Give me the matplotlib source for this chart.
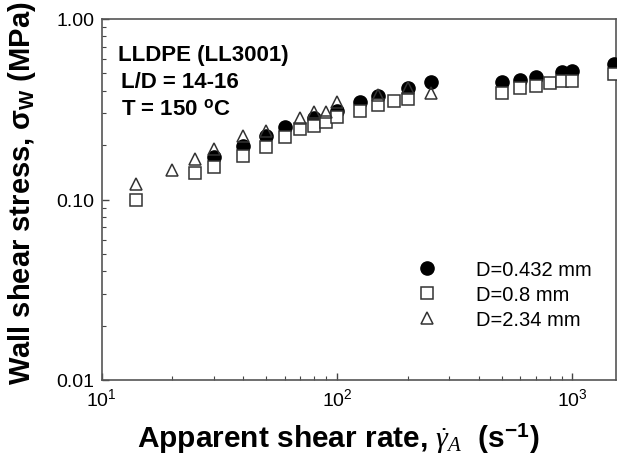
import matplotlib
matplotlib.use("Agg")
import matplotlib.pyplot as plt
from matplotlib.ticker import LogLocator, FixedLocator, FormatStrFormatter, NullFormatter

plt.rcParams["font.family"] = ["Liberation Sans", "DejaVu Sans"]
plt.rcParams["mathtext.fontset"] = "custom"
plt.rcParams["mathtext.rm"] = "Liberation Sans"
plt.rcParams["mathtext.it"] = "Liberation Serif:italic"
plt.rcParams["mathtext.bf"] = "Liberation Sans:bold"

# ------------------------------------------------------------
# Data
# ------------------------------------------------------------
# D = 0.432 mm (filled circles)
rate_d0432 = [30, 40, 50, 60, 80, 100, 125, 150, 200, 250, 500, 600, 700, 900, 1000, 1500]
stress_d0432 = [0.172, 0.198, 0.225, 0.252, 0.283, 0.31, 0.347, 0.374, 0.415, 0.448,
                0.448, 0.459, 0.477, 0.508, 0.515, 0.563]

# D = 0.8 mm (open squares)
rate_d08 = [14, 25, 30, 40, 50, 60, 70, 80, 90, 100, 125, 150, 175, 200,
            500, 600, 700, 800, 900, 1000, 1500]
stress_d08 = [0.10, 0.140, 0.151, 0.174, 0.195, 0.222, 0.246, 0.255, 0.269, 0.287,
              0.309, 0.334, 0.351, 0.360, 0.389, 0.415, 0.426, 0.442, 0.454, 0.454, 0.496]

# D = 2.34 mm (open triangles)
rate_d234 = [14, 20, 25, 30, 40, 50, 70, 80, 90, 100, 150, 200, 250]
stress_d234 = [0.122, 0.146, 0.168, 0.190, 0.225, 0.240, 0.283, 0.305, 0.305,
               0.347, 0.380, 0.415, 0.389]

labels = ["D=0.432 mm", "D=0.8 mm", "D=2.34 mm"]
info_lines = ["LLDPE (LL3001)", "L/D = 14-16", r"T = 150 $^{\mathbf{o}}$C"]

# ------------------------------------------------------------
# Figure
# ------------------------------------------------------------
W, H = 618, 456
x0, x1, y0, y1 = 101.5, 616, 20, 381   # axes box in pixels (from top-left)
fig = plt.figure(figsize=(W / 100, H / 100), dpi=100)
ax = fig.add_axes([x0 / W, 1 - y1 / H, (x1 - x0) / W, (y1 - y0) / H])


def ax_frac(px, py):
    return (px - x0) / (x1 - x0), 1 - (py - y0) / (y1 - y0)


ax.plot(rate_d0432, stress_d0432, linestyle="none", marker="o", ms=9.5,
        mfc="black", mec="black", label=labels[0], zorder=3)
ax.plot(rate_d08, stress_d08, linestyle="none", marker="s", ms=8,
        mfc="white", mec="#333333", mew=1.1, label=labels[1], zorder=4)
ax.plot(rate_d234, stress_d234, linestyle="none", marker="^", ms=9,
        mfc="none", mec="#333333", mew=1.1, label=labels[2], zorder=5)

ax.set_xscale("log")
ax.set_yscale("log")
ax.set_xlim(10, 1531)
ax.set_ylim(0.01, 1.0)

ax.yaxis.set_major_locator(FixedLocator([0.01, 0.1, 1.0]))
ax.yaxis.set_major_formatter(FormatStrFormatter("%.2f"))
ax.yaxis.set_minor_locator(LogLocator(base=10, subs=range(2, 10)))
ax.yaxis.set_minor_formatter(NullFormatter())
ax.xaxis.set_minor_locator(LogLocator(base=10, subs=range(2, 10)))
ax.xaxis.set_minor_formatter(NullFormatter())

ax.tick_params(which="both", direction="in", colors="#444444", labelcolor="black",
               labelsize=14, top=False, right=False)
ax.tick_params(which="major", length=5, width=1)
ax.tick_params(which="minor", length=3, width=0.8)
ax.tick_params(axis="x", which="major", pad=5)
ax.tick_params(axis="y", which="major", pad=5)

for sp in ax.spines.values():
    sp.set_color("#555555")
    sp.set_linewidth(1.2)

ax.set_xlabel(r"Apparent shear rate, $\dot{\gamma}_A$  (s$^{\mathbf{-1}}$)", fontsize=21.5,
              fontweight="bold")
ax.xaxis.set_label_coords(*ax_frac(338, 422))
ax.set_ylabel(r"Wall shear stress, σ$_{\mathbf{W}}$ (MPa)", fontsize=21,
              fontweight="bold")
ax.yaxis.set_label_coords(*ax_frac(38, 193.5))

ax.legend(loc="upper left", bbox_to_anchor=ax_frac(399, 253),
          frameon=False, fontsize=14.5, numpoints=1, handlelength=2,
          handletextpad=1.4, labelspacing=0.3, borderaxespad=0)

# info block in the upper-left corner
for i, line in enumerate(info_lines):
    fig.text(118 / W + (0.005 if i else 0), 1 - (61 + 27 * i) / H, line,
             fontsize=16, fontweight="bold", va="baseline", ha="left")

fig.savefig("out.png", dpi=100)
